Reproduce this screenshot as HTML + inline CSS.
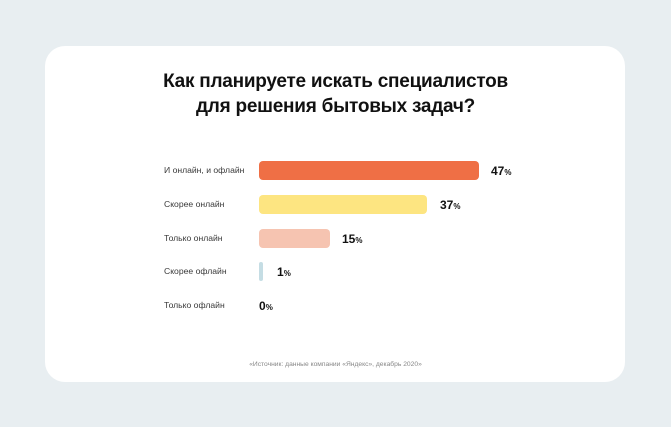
<!DOCTYPE html>
<html><head><meta charset="utf-8">
<style>
html,body{margin:0;padding:0;}
body{width:671px;height:427px;background:#E8EEF1;position:relative;overflow:hidden;font-family:"Liberation Sans","Noto Sans CJK SC",sans-serif;}
.card{position:absolute;left:45px;top:46px;width:580px;height:336px;background:#fff;border-radius:20px;}
.title{position:absolute;left:0;top:69px;width:671px;text-align:center;font-size:19px;font-weight:bold;line-height:25px;color:#111;letter-spacing:-0.25px;}
.lab{position:absolute;left:164px;font-size:8.6px;color:#3a3a3a;white-space:nowrap;}
.bar{position:absolute;left:259px;height:19px;border-radius:4px;}
.val{position:absolute;font-size:12px;font-weight:bold;color:#111;white-space:nowrap;}
.val span{font-size:8px;}
.src{position:absolute;left:0;width:671px;top:361px;text-align:center;font-size:6.7px;color:#888;}
</style></head><body>
<div class="card"></div>
<div class="title">Как планируете искать специалистов<br>для решения бытовых задач?</div>

<div class="lab" style="top:165px">И онлайн, и офлайн</div>
<div class="bar" style="top:161px;width:220px;background:#EF6F45"></div>
<div class="val" style="left:491px;top:164px">47<span>%</span></div>

<div class="lab" style="top:199px">Скорее онлайн</div>
<div class="bar" style="top:194.5px;width:168px;background:#FDE581"></div>
<div class="val" style="left:440px;top:198px">37<span>%</span></div>

<div class="lab" style="top:233px">Только онлайн</div>
<div class="bar" style="top:228.5px;width:71px;background:#F6C4B1"></div>
<div class="val" style="left:342px;top:232px">15<span>%</span></div>

<div class="lab" style="top:266px">Скорее офлайн</div>
<div class="bar" style="top:262px;width:4px;border-radius:2px;background:#C5DDE4"></div>
<div class="val" style="left:277px;top:265px">1<span>%</span></div>

<div class="lab" style="top:300px">Только офлайн</div>
<div class="val" style="left:259px;top:299px">0<span>%</span></div>

<div class="src">«Источник: данные компании «Яндекс», декабрь 2020»</div>
</body></html>
